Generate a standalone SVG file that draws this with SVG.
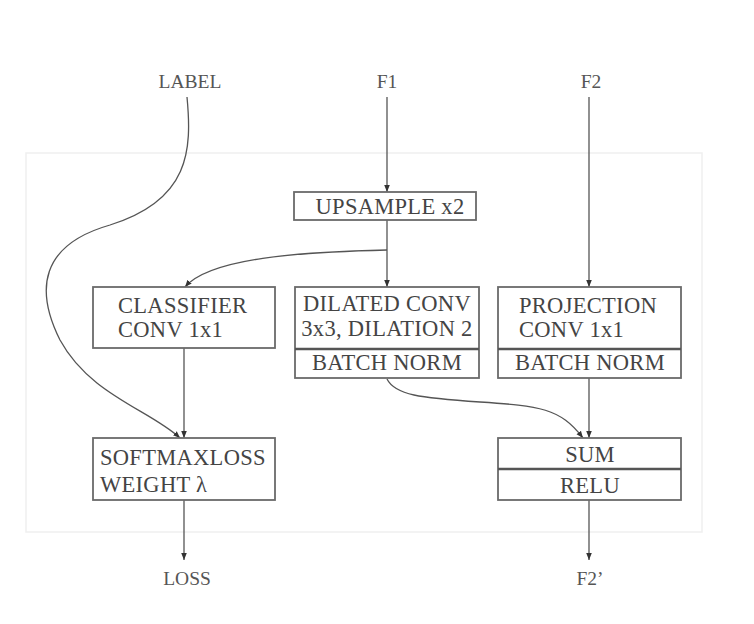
<svg xmlns="http://www.w3.org/2000/svg" width="754" height="624" viewBox="0 0 754 624">
<style>
.box{fill:#fff;stroke:#6a6a6a;stroke-width:1.8}
.div{stroke:#555;stroke-width:2.4}
.t{font-family:"Liberation Serif","Times New Roman",serif;font-size:22.5px;letter-spacing:0.3px;fill:#444}
.s{font-family:"Liberation Serif","Times New Roman",serif;font-size:19.5px;fill:#555}
.c{text-anchor:middle}
.e{fill:none;stroke:#555;stroke-width:1.3}
</style>
<defs>
<marker id="a" viewBox="0 0 10 10" refX="10" refY="5" markerWidth="7" markerHeight="7" markerUnits="userSpaceOnUse" orient="auto">
<path d="M0,1 L10,5 L0,9 z" fill="#333"/>
</marker>
</defs>
<rect width="754" height="624" fill="#fff"/>
<rect x="26" y="153" width="676" height="379" fill="none" stroke="#efefef" stroke-width="1.5"/>
<g id="edges">
<path class="e" d="M387,97 L387,192" marker-end="url(#a)"/>
<path class="e" d="M589,97 L589,287" marker-end="url(#a)"/>
<path class="e" d="M387,220 L387,287" marker-end="url(#a)"/>
<path class="e" d="M387,250 C300,252 210,258 185,287" marker-end="url(#a)"/>
<path class="e" d="M187,97 C192,150 190,200 110,225 C40,245 35,290 60,340 C90,395 150,410 180,438" marker-end="url(#a)"/>
<path class="e" d="M184,348 L184,438" marker-end="url(#a)"/>
<path class="e" d="M387,379 C395,395 420,398 480,402 C540,406 560,408 583,438" marker-end="url(#a)"/>
<path class="e" d="M589,378 L589,438" marker-end="url(#a)"/>
<path class="e" d="M184,500 L184,560" marker-end="url(#a)"/>
<path class="e" d="M589,500 L589,560" marker-end="url(#a)"/>
</g>
<g id="label"><text class="s c" x="190" y="88">LABEL</text></g>
<g id="f1"><text class="s c" x="387" y="88">F1</text></g>
<g id="f2"><text class="s c" x="591" y="88">F2</text></g>
<g id="upsample">
<rect class="box" x="294" y="192" width="182" height="28"/>
<text class="t c" x="390" y="214">UPSAMPLE x2</text>
</g>
<g id="classifier">
<rect class="box" x="93" y="287" width="182" height="61"/>
<text class="t" x="118" y="313">CLASSIFIER</text>
<text class="t" x="118" y="337">CONV 1x1</text>
</g>
<g id="dilated">
<rect class="box" x="295" y="287" width="184" height="91"/>
<line class="div" x1="295" y1="349" x2="479" y2="349"/>
<text class="t c" x="387" y="311">DILATED CONV</text>
<text class="t c" x="387" y="336">3x3, DILATION 2</text>
<text class="t c" x="387" y="370">BATCH NORM</text>
</g>
<g id="projection">
<rect class="box" x="498" y="287" width="183" height="91"/>
<line class="div" x1="498" y1="349" x2="681" y2="349"/>
<text class="t" x="519" y="313">PROJECTION</text>
<text class="t" x="519" y="337">CONV 1x1</text>
<text class="t c" x="590" y="370">BATCH NORM</text>
</g>
<g id="softmax">
<rect class="box" x="93" y="438" width="182" height="62"/>
<text class="t" x="100" y="465">SOFTMAXLOSS</text>
<text class="t" x="100" y="492">WEIGHT λ</text>
</g>
<g id="sumrelu">
<rect class="box" x="498" y="438" width="183" height="62"/>
<line class="div" x1="498" y1="469" x2="681" y2="469"/>
<text class="t c" x="590" y="462">SUM</text>
<text class="t c" x="590" y="493">RELU</text>
</g>
<g id="loss"><text class="s c" x="187" y="585">LOSS</text></g>
<g id="f2p"><text class="s c" x="590" y="585">F2’</text></g>
</svg>
